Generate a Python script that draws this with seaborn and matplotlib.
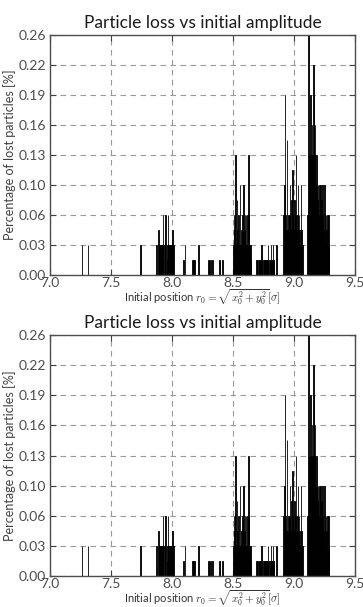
import numpy as np
import pandas as pd
import seaborn as sns
import matplotlib
matplotlib.use("Agg")
import matplotlib.pyplot as plt

# lost particles, binned by initial amplitude (bin position, number of particles in bin)
unit = 0.26 / 16  # percentage of one lost particle

pos_low = [7.262, 7.312, 7.742]
n_low = [2, 2, 2]

pos_a = [7.872, 7.887, 7.892, 7.897, 7.907, 7.912, 7.922, 7.927, 7.937, 7.947,
         7.957, 7.962, 7.967, 7.972, 7.977, 7.982, 7.987, 7.992, 7.997, 8.002,
         8.007, 8.012]
n_a = [2, 3, 2, 2, 2, 2, 2, 4, 2, 4,
       1, 2, 4, 2, 2, 2, 2, 2, 2, 3,
       2, 2]

pos_b = [8.092, 8.107, 8.167, 8.172, 8.177, 8.182, 8.217, 8.297, 8.302, 8.317,
         8.332, 8.387, 8.392, 8.412]
n_b = [1, 2, 1, 1, 1, 1, 2, 1, 1, 1,
       1, 1, 1, 1]

pos_c = [8.502, 8.507, 8.512, 8.517, 8.522, 8.527, 8.532, 8.537, 8.542, 8.547,
         8.552, 8.557, 8.562, 8.567, 8.572, 8.577, 8.582, 8.587, 8.592, 8.597,
         8.602, 8.607, 8.612, 8.617, 8.622, 8.627, 8.632, 8.637, 8.642, 8.647]
n_c = [2, 4, 3, 4, 8, 2, 5, 3, 2, 4,
       2, 6, 2, 3, 2, 4, 2, 6, 3, 4,
       2, 4, 2, 4, 2, 8, 4, 2, 2, 1]

pos_d = [8.692, 8.697, 8.702, 8.712, 8.717, 8.722, 8.727, 8.732, 8.737, 8.747,
         8.752, 8.757, 8.767, 8.772, 8.777, 8.782, 8.787, 8.792, 8.802, 8.807,
         8.812, 8.817, 8.822, 8.827, 8.832, 8.837, 8.857]
n_d = [1, 1, 1, 1, 1, 1, 1, 2, 1, 1,
       1, 1, 1, 1, 1, 1, 2, 1, 1, 1,
       2, 1, 1, 2, 1, 1, 2]

pos_e = [8.912, 8.917, 8.922, 8.927, 8.932, 8.937, 8.942, 8.947, 8.952, 8.957,
         8.962, 8.967, 8.972, 8.977, 8.982, 8.987, 8.992, 8.997, 9.002, 9.007,
         9.012, 9.017, 9.022, 9.027, 9.032, 9.037, 9.042, 9.047, 9.052, 9.057,
         9.062, 9.067]
n_e = [4, 2, 6, 12, 4, 3, 9, 3, 4, 4,
       4, 6, 3, 5, 3, 7, 4, 3, 5, 3,
       4, 8, 3, 4, 6, 3, 4, 3, 2, 6,
       3, 2]

pos_f = [9.112, 9.117, 9.122, 9.127, 9.132, 9.137, 9.142, 9.147, 9.152, 9.157,
         9.162, 9.167, 9.172, 9.177, 9.182, 9.187, 9.192, 9.197, 9.202, 9.207,
         9.212, 9.217, 9.222, 9.227, 9.232, 9.237, 9.242, 9.247, 9.252, 9.257,
         9.262, 9.267, 9.272, 9.277, 9.282, 9.287]
n_f = [4, 16, 8, 6, 8, 12, 8, 10, 8, 14,
       12, 8, 10, 6, 8, 6, 5, 6, 4, 6,
       4, 6, 4, 5, 6, 4, 3, 6, 4, 2,
       4, 3, 4, 2, 4, 2]

xticks = [7.0, 7.5, 8.0, 8.5, 9.0, 9.5]
ytick_labels = ["0.00", "0.03", "0.06", "0.10", "0.13", "0.16", "0.19", "0.22", "0.26"]

positions = pos_low + pos_a + pos_b + pos_c + pos_d + pos_e + pos_f
counts = n_low + n_a + n_b + n_c + n_d + n_e + n_f
df = pd.DataFrame({'r0': positions, 'pct': np.array(counts) * unit})

plt.rcParams['font.family'] = ['Lato', 'DejaVu Sans']
plt.rcParams['mathtext.fontset'] = 'cm'

fig = plt.figure(figsize=(3.63, 6.07), dpi=100)
ax1 = fig.add_axes([0.1377, 0.5470, 0.8403, 0.3953])
ax2 = fig.add_axes([0.1377, 0.0511, 0.8403, 0.3969])

for ax in [ax1, ax2]:
    sns.histplot(data=df, x='r0', weights='pct', binwidth=0.005,
                 binrange=(7.25, 9.295), ax=ax,
                 color='black', edgecolor='black', linewidth=0.6, alpha=1)
    ax.set_xlim(7.0, 9.5)
    ax.set_ylim(0, 0.26)
    ax.set_xticks(xticks)
    ax.set_xticklabels(["%.1f" % t for t in xticks])
    ax.set_yticks(np.linspace(0, 0.26, 9))
    ax.set_yticklabels(ytick_labels)
    ax.grid(True, color='0.6', linestyle='--', linewidth=0.8, dashes=(5, 4))
    ax.set_axisbelow(True)
    ax.tick_params(direction='in', top=True, right=True, length=4, pad=3,
                   labelsize=10, colors='0.25', labelcolor='0.3')
    ax.tick_params(axis='x', pad=1.5)
    for s in ax.spines.values():
        s.set_color('0.3')
        s.set_linewidth(1.0)
    ax.set_title('Particle loss vs initial amplitude', fontsize=12.5, pad=5,
                 color='0.1')
    ax.set_ylabel('Percentage of lost particles [%]', fontsize=9, color='0.25',
                  labelpad=2)
    ax.set_xlabel(r'Initial position $r_0=\sqrt{x_0^2+y_0^2}[\sigma]$',
                  fontsize=8, color='0.2', labelpad=-1)

fig.savefig('out.png', dpi=100)
